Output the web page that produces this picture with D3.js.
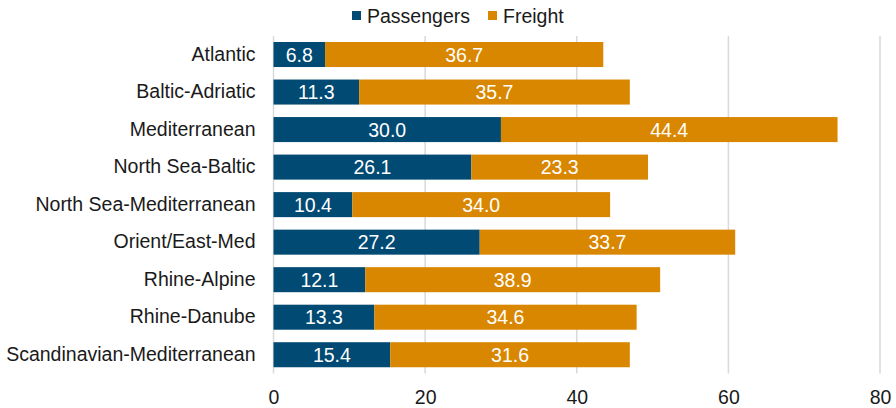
<!DOCTYPE html>
<html><head><meta charset="utf-8">
<script src="https://cdn.jsdelivr.net/npm/d3@7"></script>
<style>body{margin:0;background:#fff;}svg{display:block;font-family:"Liberation Sans",Arial,sans-serif;}</style>
</head><body><svg id="c" width="896" height="408"></svg>
<script>
const categories = ["Atlantic","Baltic-Adriatic","Mediterranean","North Sea-Baltic","North Sea-Mediterranean","Orient/East-Med","Rhine-Alpine","Rhine-Danube","Scandinavian-Mediterranean"];
const passengers = [6.8,11.3,30.0,26.1,10.4,27.2,12.1,13.3,15.4];
const freight = [36.7,35.7,44.4,23.3,34.0,33.7,38.9,34.6,31.6];
const seriesNames = ["Passengers","Freight"];
const xTicks = [0,20,40,60,80];
const colors = ["#004a73","#d98700"];
const FS = 19.5;

const svg = d3.select("#c");
const x = d3.scaleLinear().domain([0,80]).range([273.5,880]);
const y = d3.scaleBand().domain(categories).range([35.75,373.5]).paddingInner(0.333).paddingOuter(0.1665);

// gridlines
svg.append("g").selectAll("line").data(xTicks).join("line")
  .attr("x1",d=>x(d)).attr("x2",d=>x(d)).attr("y1",36).attr("y2",373.5)
  .attr("stroke","#d9d9d9").attr("stroke-width",1.5);

const data = categories.map((c,i)=>({c, vals:[passengers[i],freight[i]]}));
const stackRows = data.map(d=>{let s=0;return d.vals.map((v,k)=>{const r={c:d.c,k,v,x0:s,x1:s+v};s+=v;return r;});}).flat();

svg.append("g").selectAll("rect").data(stackRows).join("rect")
  .attr("x",d=>x(d.x0)).attr("width",d=>x(d.x1)-x(d.x0))
  .attr("y",d=>y(d.c)).attr("height",y.bandwidth())
  .attr("fill",d=>colors[d.k]);

svg.append("g").selectAll("text").data(stackRows).join("text")
  .attr("x",d=>(x(d.x0)+x(d.x1))/2).attr("y",d=>y(d.c)+y.bandwidth()/2)
  .attr("dy","0.36em").attr("text-anchor","middle").attr("fill","#fff")
  .attr("font-size",FS).text(d=>d.v.toFixed(1));

// category axis
const ya = svg.append("g").attr("transform","translate(273.5,0)").call(d3.axisLeft(y).tickSize(0).tickPadding(18));
ya.select(".domain").remove();
ya.selectAll("text").attr("font-size",FS).attr("fill","#1a1a1a").attr("font-family","Liberation Sans, Arial, sans-serif");

// x axis
const xa = svg.append("g").attr("transform","translate(0,373.5)").call(d3.axisBottom(x).tickValues(xTicks).tickSize(0).tickPadding(17).tickFormat(d3.format("d")));
xa.select(".domain").remove();
xa.selectAll("text").attr("font-size",FS).attr("fill","#1a1a1a").attr("font-family","Liberation Sans, Arial, sans-serif");

// legend
const lg = svg.append("g");
const lx = [352,488];
seriesNames.forEach((n,i)=>{
  lg.append("rect").attr("x",lx[i]).attr("y",11).attr("width",9).attr("height",9).attr("fill",colors[i]);
  lg.append("text").attr("x",lx[i]+15).attr("y",16).attr("dy","0.36em").attr("font-size",FS).attr("fill","#1a1a1a").text(n);
});
</script></body></html>
